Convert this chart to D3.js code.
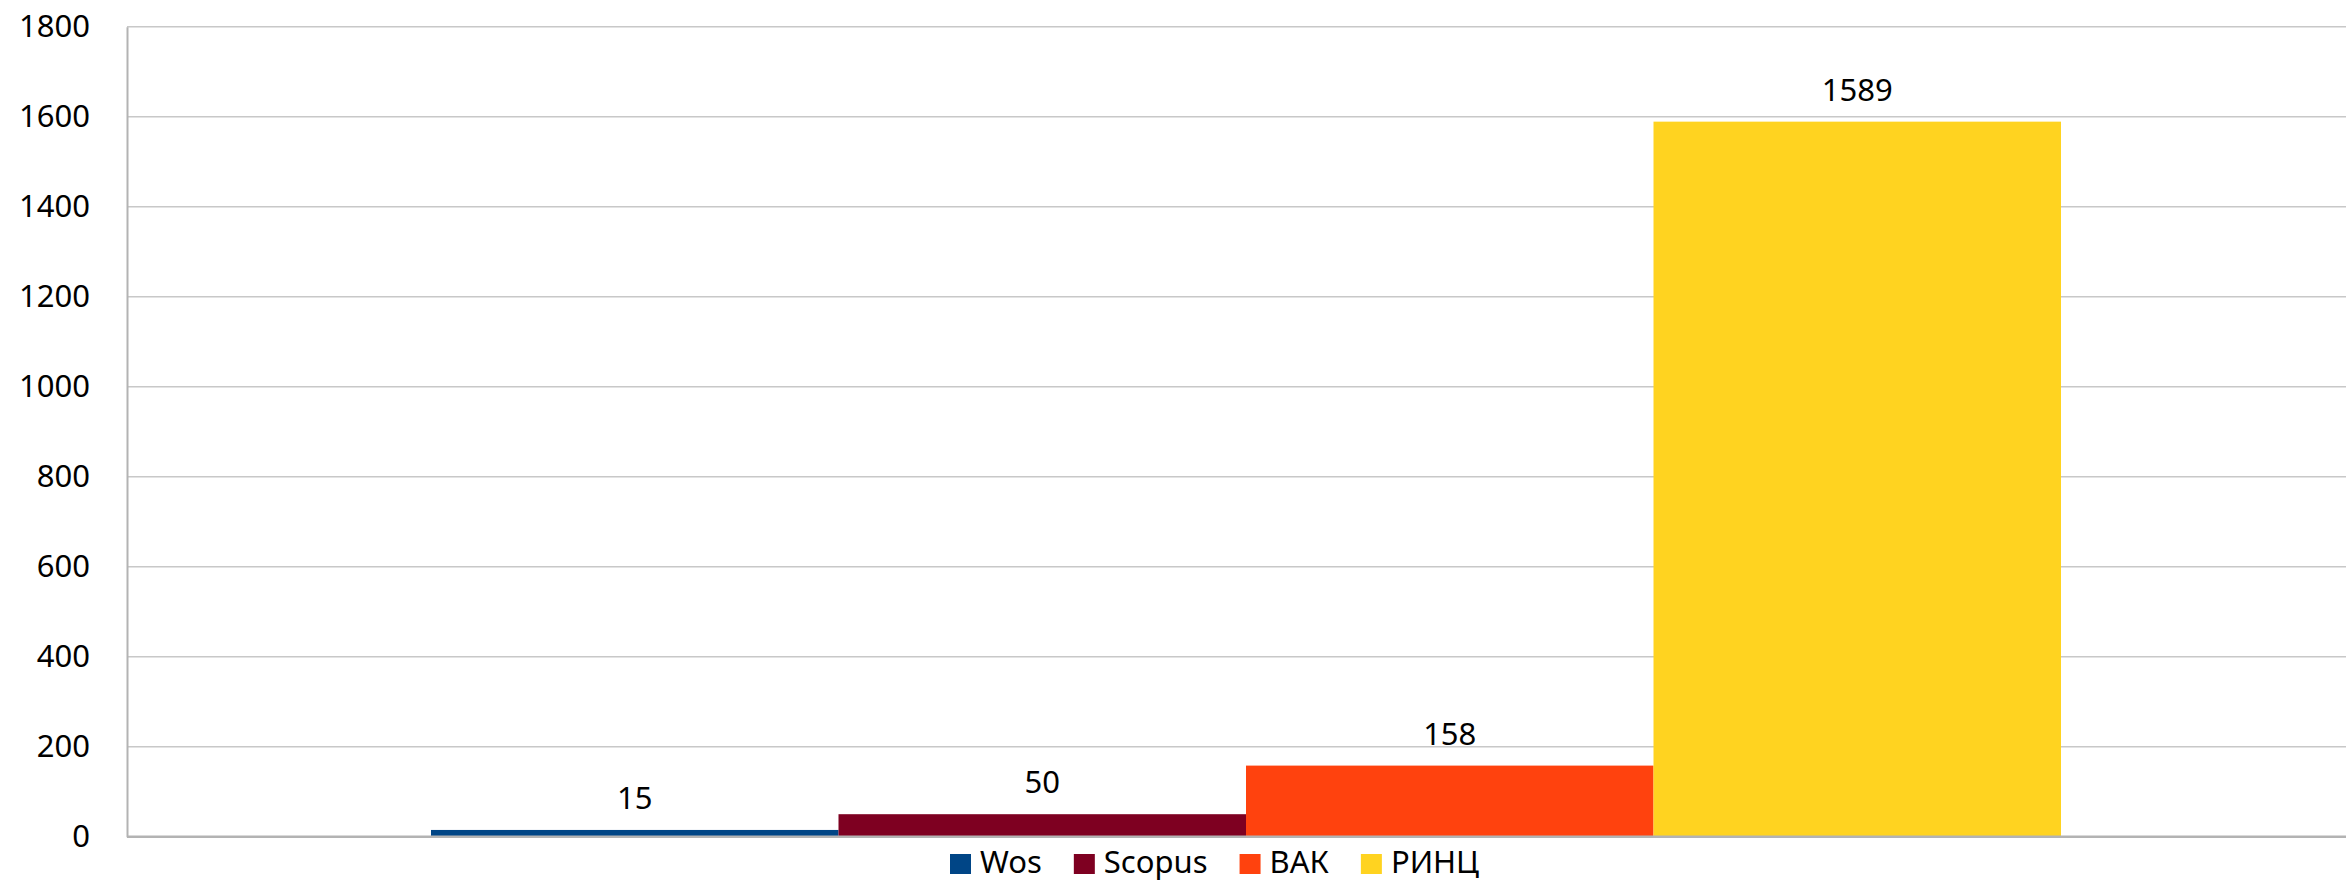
<!DOCTYPE html>
<html><head><meta charset="utf-8">
<script src="https://cdn.jsdelivr.net/npm/d3@7"></script>
<style>html,body{margin:0;padding:0;background:#fff;} svg{display:block;}</style>
</head><body>
<script>
const categories = [""];
const seriesNames = ["Wos", "Scopus", "ВАК", "РИНЦ"];
const seriesValues = [15, 50, 158, 1589];
const seriesColors = ["#004586", "#7E0021", "#FF420E", "#FFD320"];
const yTicks = [0, 200, 400, 600, 800, 1000, 1200, 1400, 1600, 1800];

const W = 2346, H = 881;
const FONT = "'Noto Sans', sans-serif";
const FS = 31;
const plot = {left: 127, right: 2346, top: 26.7, bottom: 836.7};

const svg = d3.select("body").append("svg").attr("width", W).attr("height", H);

const y = d3.scaleLinear().domain([0, 1800]).range([plot.bottom, plot.top]);
const xCat = d3.scaleBand().domain(categories).range([plot.left, plot.right + 19])
  .paddingOuter(0.1865).paddingInner(0);
const xSer = d3.scaleBand().domain(seriesNames)
  .range([xCat(categories[0]), xCat(categories[0]) + xCat.bandwidth()]).padding(0);

// gridlines
svg.append("g").selectAll("line").data(yTicks.filter(d => d > 0)).join("line")
  .attr("x1", plot.left).attr("x2", plot.right)
  .attr("y1", d => y(d)).attr("y2", d => y(d))
  .attr("stroke", "#c8c8c8").attr("stroke-width", 1.5);

// y axis
const yAxis = d3.axisLeft(y).tickValues(yTicks).tickFormat(d3.format("d")).tickSize(0).tickPadding(37);
const gy = svg.append("g").attr("transform", `translate(${plot.left},0)`).call(yAxis);
gy.select(".domain").attr("stroke", "#b3b3b3").attr("stroke-width", 2);
gy.selectAll("text").attr("font-family", FONT).attr("font-size", FS).attr("fill", "#000");

// bars
const data = seriesNames.map((s, i) => ({s, v: seriesValues[i], c: seriesColors[i]}));
svg.append("g").selectAll("rect").data(data).join("rect")
  .attr("x", d => xSer(d.s)).attr("width", xSer.bandwidth())
  .attr("y", d => y(d.v)).attr("height", d => y(0) - y(d.v))
  .attr("fill", d => d.c);

// x axis line
svg.append("line").attr("x1", plot.left).attr("x2", plot.right)
  .attr("y1", plot.bottom).attr("y2", plot.bottom)
  .attr("stroke", "#b3b3b3").attr("stroke-width", 2.5);

// labels
svg.append("g").selectAll("text").data(data).join("text")
  .attr("x", d => xSer(d.s) + xSer.bandwidth() / 2)
  .attr("y", d => y(d.v) - 21)
  .attr("text-anchor", "middle")
  .attr("font-family", FONT).attr("font-size", FS).attr("fill", "#000")
  .text(d => d.v);

// legend
const lg = svg.append("g");
const items = lg.selectAll("g").data(data).join("g");
items.append("rect").attr("width", 21).attr("height", 20).attr("y", 854).attr("fill", d => d.c);
items.append("text").attr("x", 30).attr("y", 873)
  .attr("font-family", FONT).attr("font-size", FS).attr("fill", "#000").text(d => d.s);
let xx = 0;
const gap = 32;
items.each(function() {
  const g = d3.select(this);
  g.attr("transform", `translate(${xx},0)`);
  xx += 30 + g.select("text").node().getComputedTextLength() + gap;
});
lg.attr("transform", `translate(950,0)`);
</script>
</body></html>
